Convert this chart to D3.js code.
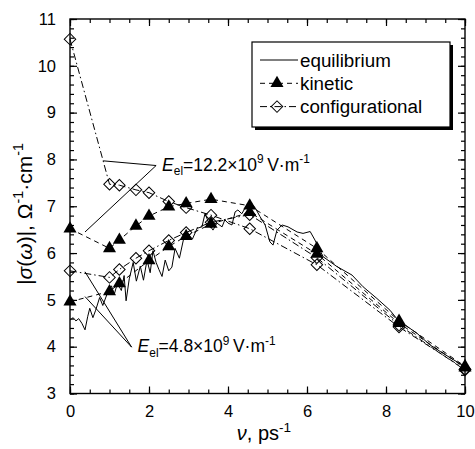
<!DOCTYPE html>
<html>
<head>
<meta charset="utf-8">
<script src="https://cdn.jsdelivr.net/npm/d3@7"></script>
<style>
  body { margin: 0; background: #fff; }
  svg { display: block; font-family: "Liberation Sans", Arial, sans-serif; }
</style>
</head>
<body>
<div class="chart"></div>
<script>
// frequency points, ps^-1
const nu = [0, 1.0, 1.25, 1.67, 2.0, 2.5, 2.94, 3.57, 4.55, 6.25, 8.33, 10];
const nuLowKin = [0, 1.0, 1.25, 2.0, 2.5, 2.94, 3.57, 4.55, 6.25, 8.33, 10];

// E = 12.2e9 V/m
const kineticHigh = [6.52, 6.10, 6.28, 6.58, 6.79, 6.99, 7.06, 7.15, 7.01, 6.10, 4.55, 3.58];
const configHigh = [10.57, 7.47, 7.45, 7.35, 7.29, 7.10, 6.97, 6.81, 6.52, 5.75, 4.42, 3.52];
// E = 4.8e9 V/m
const kineticLow = [4.96, 5.18, 5.35, 5.84, 6.14, 6.36, 6.62, 6.87, 5.98, 4.50, 3.55];
const configLow = [5.62, 5.48, 5.65, 5.89, 6.05, 6.27, 6.44, 6.66, 6.82, 5.90, 4.46, 3.50];

// equilibrium (noisy) curve
const eqNu = [0, 0.08, 0.15, 0.22, 0.3, 0.38, 0.45, 0.5, 0.58, 0.65, 0.75, 0.83, 0.95, 1.05, 1.12, 1.2,
  1.3, 1.37, 1.42, 1.5, 1.6, 1.68, 1.78, 1.86, 1.95, 2.03, 2.1, 2.18, 2.25, 2.33, 2.41, 2.5, 2.58, 2.66,
  2.77, 2.87, 3.0, 3.1, 3.22, 3.34, 3.42, 3.52, 3.62, 3.72, 3.85, 3.92, 4.0, 4.1, 4.18, 4.25, 4.35, 4.48,
  4.56, 4.7, 4.81, 4.94, 5.06, 5.14, 5.24, 5.37, 5.52, 5.75, 5.9, 6.08, 6.2, 6.28, 6.41, 6.76, 7.14,
  7.42, 7.77, 8.1, 8.3, 8.78, 9.11, 9.44, 10];
const eqSigma = [4.57, 4.62, 4.55, 4.60, 4.50, 4.36, 4.65, 4.82, 4.62, 4.78, 5.05, 4.88, 5.15, 5.30, 5.12, 5.35,
  5.20, 5.52, 4.98, 5.45, 5.80, 5.40, 5.72, 5.42, 5.85, 5.58, 6.05, 5.80, 5.65, 5.50, 5.85, 5.62, 5.70, 6.10,
  5.89, 6.28, 6.39, 6.30, 6.53, 6.56, 6.85, 6.62, 6.49, 6.64, 6.56, 6.71, 6.64, 6.60, 6.88, 6.92, 6.84, 7.03,
  7.10, 6.95, 6.78, 6.60, 6.24, 6.17, 6.49, 6.60, 6.56, 6.45, 6.42, 6.46, 6.28, 6.14, 5.92, 5.71, 5.53,
  5.28, 5.03, 4.78, 4.57, 4.29, 4.04, 3.86, 3.57];

const xTicks = [0, 2, 4, 6, 8, 10];
const yTicks = [3, 4, 5, 6, 7, 8, 9, 10, 11];

// annotation pointers [anchor, target1, target2] in data units
const annHigh = [[2.18, 7.87], [0.84, 7.97], [0.38, 6.45]];
const annLow = [[1.56, 3.99], [0.38, 5.60], [0.38, 5.07]];

const width = 475;
const height = 449;
const pLeft = 70, pRight = 465, pTop = 19, pBottom = 393.5;

const x = d3.scaleLinear().domain([0, 10]).range([pLeft, pRight]);
const y = d3.scaleLinear().domain([3, 11]).range([pBottom, pTop]);

const svg = d3.select(".chart").append("svg")
    .attr("width", width)
    .attr("height", height);

// axes, ticks inward on all four sides
function styleAxis(g) {
    g.select(".domain").remove();
    g.selectAll("line").attr("stroke", "#000").attr("stroke-width", 1.2);
    g.selectAll("text").attr("font-size", 16.5).attr("fill", "#000")
        .attr("font-family", "'Liberation Sans', Arial, sans-serif");
}
const xMinor = d3.range(0, 10.01, 0.5);
const yMinor = d3.range(3, 11.01, 0.2);

svg.append("g").attr("transform", `translate(0,${pBottom})`)
    .call(d3.axisBottom(x).tickValues(xMinor).tickSize(-4).tickFormat("")).call(styleAxis);
svg.append("g").attr("transform", `translate(0,${pBottom})`)
    .call(d3.axisBottom(x).tickValues(xTicks).tickSize(-7).tickPadding(12).tickFormat(d3.format("d"))).call(styleAxis);
svg.append("g").attr("transform", `translate(0,${pTop})`)
    .call(d3.axisTop(x).tickValues(xMinor).tickSize(-4).tickFormat("")).call(styleAxis);
svg.append("g").attr("transform", `translate(0,${pTop})`)
    .call(d3.axisTop(x).tickValues(xTicks).tickSize(-7).tickFormat("")).call(styleAxis);

svg.append("g").attr("transform", `translate(${pLeft},0)`)
    .call(d3.axisLeft(y).tickValues(yMinor).tickSize(-4).tickFormat("")).call(styleAxis);
svg.append("g").attr("transform", `translate(${pLeft},0)`)
    .call(d3.axisLeft(y).tickValues(yTicks).tickSize(-7).tickPadding(14).tickFormat(d3.format("d"))).call(styleAxis);
svg.append("g").attr("transform", `translate(${pRight},0)`)
    .call(d3.axisRight(y).tickValues(yMinor).tickSize(-4).tickFormat("")).call(styleAxis);
svg.append("g").attr("transform", `translate(${pRight},0)`)
    .call(d3.axisRight(y).tickValues(yTicks).tickSize(-7).tickFormat("")).call(styleAxis);

svg.append("rect")
    .attr("x", pLeft).attr("y", pTop)
    .attr("width", pRight - pLeft).attr("height", pBottom - pTop)
    .attr("fill", "none").attr("stroke", "#000").attr("stroke-width", 1.4);

// lines
const line = d3.line().x(d => x(d[0])).y(d => y(d[1]));
const zip = (a, b) => a.map((v, i) => [v, b[i]]);

const dashKin = "5,4";
const dashConf = "7,3,1.5,3";

svg.append("path").datum(zip(eqNu, eqSigma))
    .attr("d", line).attr("fill", "none").attr("stroke", "#000").attr("stroke-width", 1);

[[nu, configHigh], [nu, configLow]].forEach(s => {
    svg.append("path").datum(zip(s[0], s[1]))
        .attr("d", line).attr("fill", "none").attr("stroke", "#000")
        .attr("stroke-width", 1).attr("stroke-dasharray", dashConf);
});
[[nu, kineticHigh], [nuLowKin, kineticLow]].forEach(s => {
    svg.append("path").datum(zip(s[0], s[1]))
        .attr("d", line).attr("fill", "none").attr("stroke", "#000")
        .attr("stroke-width", 1).attr("stroke-dasharray", dashKin);
});

// markers
const tri = d3.symbol().type(d3.symbolTriangle).size(74);
const dia = d3.symbol().type(d3.symbolSquare).size(66);

function diamonds(data) {
    svg.append("g").selectAll("path").data(data).enter().append("path")
        .attr("d", dia)
        .attr("transform", d => `translate(${x(d[0])},${y(d[1])}) rotate(45)`)
        .attr("fill", "none").attr("stroke", "#000").attr("stroke-width", 1);
}
function triangles(data) {
    svg.append("g").selectAll("path").data(data).enter().append("path")
        .attr("d", tri)
        .attr("transform", d => `translate(${x(d[0])},${y(d[1])})`)
        .attr("fill", "#000");
}
diamonds(zip(nu, configHigh));
diamonds(zip(nu, configLow));
triangles(zip(nu, kineticHigh));
triangles(zip(nuLowKin, kineticLow));

// rich text helper
function richText(sel, parts, fs) {
    const t = sel.append("text").attr("font-size", fs).attr("fill", "#000");
    let shift = 0;
    parts.forEach(p => {
        const target = p.sup ? -0.42 * fs : p.sub ? 0.28 * fs : 0;
        const ts = t.append("tspan").text(p.t).attr("dy", target - shift);
        shift = target;
        if (p.sup || p.sub) ts.attr("font-size", fs * 0.68);
        if (p.i) ts.attr("font-style", "italic");
    });
    return t;
}

// annotations
function annotate(ann, label) {
    const a = ann[0];
    [ann[1], ann[2]].forEach(t => {
        svg.append("line")
            .attr("x1", x(a[0])).attr("y1", y(a[1]))
            .attr("x2", x(t[0])).attr("y2", y(t[1]))
            .attr("stroke", "#000").attr("stroke-width", 1);
    });
    richText(svg, [{t: "E", i: true}, {t: "el", sub: true}, {t: "=" + label + "\u00d710"},
        {t: "9", sup: true}, {t: "\u2009V\u00b7m"}, {t: "-1", sup: true}], 17.5)
        .attr("x", x(a[0]) + 6).attr("y", y(a[1]) + 5);
}
annotate(annHigh, "12.2");
annotate(annLow, "4.8");

// legend
const lg = svg.append("g").attr("transform", "translate(252,42)");
lg.append("rect").attr("x", 3).attr("y", 3).attr("width", 198).attr("height", 85).attr("fill", "#000");
lg.append("rect").attr("width", 198).attr("height", 85).attr("fill", "#fff")
    .attr("stroke", "#000").attr("stroke-width", 1.2);
const legendItems = [
    {name: "equilibrium", dash: null, mark: null},
    {name: "kinetic", dash: dashKin, mark: "tri"},
    {name: "configurational", dash: dashConf, mark: "dia"}
];
legendItems.forEach((d, i) => {
    const yy = 18 + i * 23.3;
    const l = lg.append("line").attr("x1", 8).attr("x2", 46).attr("y1", yy).attr("y2", yy)
        .attr("stroke", "#000").attr("stroke-width", 1);
    if (d.dash) l.attr("stroke-dasharray", d.dash);
    if (d.mark === "tri") lg.append("path").attr("d", tri).attr("transform", `translate(25,${yy})`).attr("fill", "#000");
    if (d.mark === "dia") lg.append("path").attr("d", dia).attr("transform", `translate(25,${yy}) rotate(45)`)
        .attr("fill", "none").attr("stroke", "#000");
    lg.append("text").attr("x", 48).attr("y", yy + 6.5).attr("font-size", 18.8).text(d.name);
});

// axis titles
richText(svg, [{t: "\u03bd", i: true}, {t: ", ps"}, {t: "-1", sup: true}], 20)
    .attr("x", 264).attr("y", 440).attr("text-anchor", "middle");

richText(svg, [{t: "|"}, {t: "\u03c3", i: true}, {t: "("}, {t: "\u03c9", i: true}, {t: ")|, \u03a9"},
    {t: "-1", sup: true}, {t: "\u00b7cm"}, {t: "-1", sup: true}], 21)
    .attr("text-anchor", "middle")
    .attr("transform", "translate(32,214) rotate(-90)");
</script>
</body>
</html>
